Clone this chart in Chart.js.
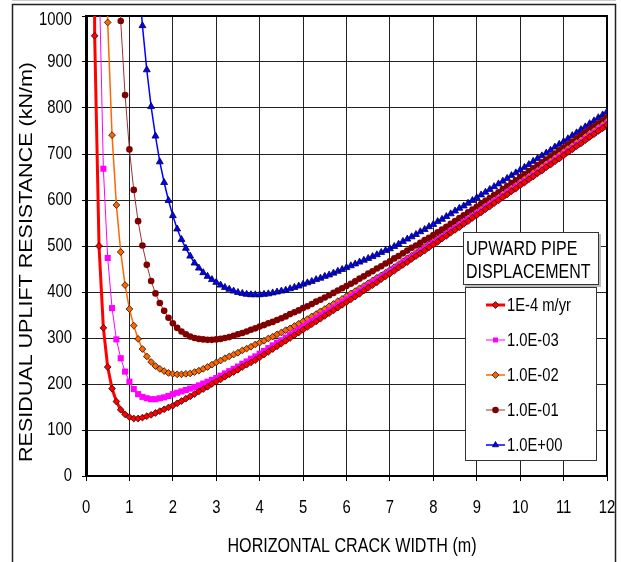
<!DOCTYPE html>
<html>
<head>
<meta charset="utf-8">
<title>Residual uplift resistance</title>
<script src="https://cdn.jsdelivr.net/npm/chart.js@4.4.1/dist/chart.umd.min.js"></script>
<style>
	html, body { margin: 0; padding: 0; background: #fff; }
	#wrap { width: 621px; height: 562px; position: relative; }
</style>
</head>
<body>
<div id="wrap"><canvas id="chart" width="621" height="562"></canvas></div>
<script>
// horizontal crack width (m)
const crackWidth = [
	0.1, 0.2, 0.3, 0.4, 0.5, 0.6, 0.7, 0.8, 0.9, 1.0,
	1.1, 1.2, 1.3, 1.4, 1.5, 1.6, 1.7, 1.8, 1.9, 2.0,
	2.1, 2.2, 2.3, 2.4, 2.5, 2.6, 2.7, 2.8, 2.9, 3.0,
	3.1, 3.2, 3.3, 3.4, 3.5, 3.6, 3.7, 3.8, 3.9, 4.0,
	4.1, 4.2, 4.3, 4.4, 4.5, 4.6, 4.7, 4.8, 4.9, 5.0,
	5.1, 5.2, 5.3, 5.4, 5.5, 5.6, 5.7, 5.8, 5.9, 6.0,
	6.1, 6.2, 6.3, 6.4, 6.5, 6.6, 6.7, 6.8, 6.9, 7.0,
	7.1, 7.2, 7.3, 7.4, 7.5, 7.6, 7.7, 7.8, 7.9, 8.0,
	8.1, 8.2, 8.3, 8.4, 8.5, 8.6, 8.7, 8.8, 8.9, 9.0,
	9.1, 9.2, 9.3, 9.4, 9.5, 9.6, 9.7, 9.8, 9.9, 10.0,
	10.1, 10.2, 10.3, 10.4, 10.5, 10.6, 10.7, 10.8, 10.9, 11.0,
	11.1, 11.2, 11.3, 11.4, 11.5, 11.6, 11.7, 11.8, 11.9, 12.0
];

// residual uplift resistance (kN/m), one list per displacement rate
const rate1e4 = [
	3000, 957, 500, 322, 237, 190, 162, 144, 134, 128,
	125, 125, 127, 130, 133, 137, 141, 145, 149, 153,
	158, 163, 168, 173, 178, 184, 189, 194, 200, 205,
	210, 216, 221, 226, 231, 237, 242, 247, 252, 258,
	264, 270, 276, 282, 288, 294, 300, 306, 312, 318,
	324, 330, 336, 342, 348, 354, 360, 366, 372, 378,
	384, 390, 396, 403, 409, 415, 421, 428, 434, 440,
	446, 453, 459, 465, 472, 478, 484, 490, 497, 503,
	509, 516, 522, 529, 535, 541, 548, 554, 561, 567,
	573, 580, 586, 593, 599, 606, 612, 619, 625, 632,
	638, 645, 651, 658, 664, 671, 677, 684, 690, 697,
	704, 710, 717, 723, 730, 737, 743, 750, 756, 763
];
const rate1e3 = [
	9000, 2600, 1100, 668, 474, 365, 297, 256, 227, 205,
	189, 178, 172, 169, 167, 167, 169, 171, 174, 178,
	181, 184, 187, 190, 193, 197, 201, 205, 209, 213,
	218, 223, 228, 233, 238, 244, 249, 255, 260, 266,
	272, 278, 284, 290, 295, 301, 307, 313, 319, 325,
	331, 337, 343, 349, 354, 360, 366, 372, 378, 384,
	390, 396, 402, 408, 414, 421, 427, 433, 439, 445,
	451, 457, 464, 470, 476, 482, 488, 495, 501, 507,
	513, 520, 526, 533, 539, 545, 552, 558, 565, 571,
	577, 584, 590, 597, 603, 609, 616, 622, 629, 635,
	641, 648, 654, 661, 667, 674, 680, 687, 693, 700,
	707, 713, 720, 726, 733, 740, 746, 753, 759, 766
];
const rate1e2 = [
	15000, 5000, 2500, 1450, 986, 741, 589, 487, 415, 363,
	327, 298, 276, 260, 248, 239, 233, 228, 224, 222,
	221, 221, 222, 223, 226, 229, 233, 237, 242, 247,
	251, 256, 260, 264, 268, 273, 277, 281, 286, 290,
	294, 299, 303, 308, 312, 317, 321, 326, 331, 336,
	341, 347, 352, 358, 363, 369, 374, 380, 385, 391,
	397, 402, 408, 413, 419, 425, 431, 436, 442, 448,
	454, 460, 467, 473, 479, 485, 491, 498, 504, 510,
	516, 523, 529, 536, 542, 549, 555, 562, 568, 575,
	581, 588, 594, 601, 607, 614, 620, 627, 633, 640,
	647, 653, 660, 666, 673, 680, 686, 693, 699, 706,
	713, 719, 726, 732, 739, 746, 752, 759, 765, 772
];
const rate1e1 = [
	30000, 9000, 4500, 2900, 2100, 1600, 1250, 989, 828, 710,
	622, 554, 501, 459, 424, 397, 376, 359, 344, 332,
	322, 314, 308, 303, 300, 298, 297, 296, 296, 297,
	298, 300, 302, 305, 308, 311, 314, 318, 321, 325,
	328, 332, 335, 339, 343, 347, 352, 356, 360, 365,
	369, 374, 379, 383, 388, 393, 398, 403, 408, 413,
	418, 423, 429, 434, 440, 445, 451, 456, 462, 467,
	473, 478, 484, 490, 496, 501, 507, 513, 518, 524,
	530, 536, 542, 548, 554, 561, 567, 573, 579, 585,
	591, 598, 604, 611, 617, 624, 630, 637, 643, 650,
	656, 663, 669, 676, 682, 688, 695, 701, 708, 714,
	721, 727, 734, 741, 747, 754, 760, 767, 773, 780
];
const rate1e0 = [
	30000, 12000, 7200, 5000, 3700, 2900, 2350, 1950, 1650, 1422,
	1242, 1097, 979, 883, 803, 739, 683, 638, 599, 566,
	537, 514, 495, 478, 463, 452, 442, 434, 427, 421,
	415, 410, 406, 402, 399, 397, 395, 394, 394, 394,
	395, 396, 398, 400, 402, 404, 407, 410, 413, 417,
	420, 423, 427, 430, 434, 437, 441, 445, 449, 453,
	457, 461, 465, 469, 473, 477, 481, 486, 490, 494,
	499, 504, 510, 515, 520, 525, 531, 536, 542, 547,
	553, 558, 564, 570, 576, 582, 587, 593, 599, 605,
	611, 617, 623, 629, 635, 641, 647, 653, 659, 665,
	671, 677, 684, 690, 696, 702, 708, 715, 721, 727,
	733, 740, 746, 753, 759, 766, 772, 779, 785, 792
];

const seriesNames = ['1E-4 m/yr', '1.0E-03', '1.0E-02', '1.0E-01', '1.0E+00'];
const legendTitle = ['UPWARD PIPE', 'DISPLACEMENT'];
const xTitle = 'HORIZONTAL CRACK WIDTH (m)';
const yTitle = 'RESIDUAL UPLIFT RESISTANCE (kN/m)';

const FONT = "'Liberation Sans', Arial, sans-serif";

// text squeezed sideways, like the narrow glyphs of the picture
function drawText(ctx, text, x, y, size, sx, align, angle) {
	ctx.save();
	ctx.translate(x, y);
	if (angle) ctx.rotate(angle);
	ctx.scale(sx, 1);
	ctx.font = size + 'px ' + FONT;
	ctx.fillStyle = '#000';
	ctx.textAlign = align || 'left';
	ctx.textBaseline = 'middle';
	ctx.fillText(text, 0, 0);
	ctx.restore();
}

function fitText(ctx, text, x, y, size, width, angle) {
	ctx.save();
	ctx.font = size + 'px ' + FONT;
	const w = ctx.measureText(text).width;
	ctx.restore();
	drawText(ctx, text, x, y, size, width / w, 'center', angle);
}

const decor = {
	id: 'decor',
	beforeDatasetsDraw(chart) {
		const {ctx, chartArea: a, scales} = chart;
		ctx.save();
		ctx.strokeStyle = '#000';
		ctx.lineWidth = 2;
		ctx.beginPath();
		ctx.moveTo(a.left, a.top);
		ctx.lineTo(a.right, a.top);
		ctx.lineTo(a.right, a.bottom);
		ctx.stroke();

		// figure frame
		ctx.strokeStyle = '#222';
		ctx.lineWidth = 1.5;
		ctx.beginPath();
		ctx.moveTo(12.5, 600);
		ctx.lineTo(12.5, 4.5);
		ctx.lineTo(615.5, 4.5);
		ctx.lineTo(615.5, 600);
		ctx.stroke();
		ctx.strokeStyle = '#ccc';
		ctx.lineWidth = 1;
		ctx.beginPath();
		ctx.moveTo(12, 0.5);
		ctx.lineTo(616, 0.5);
		ctx.stroke();
		ctx.restore();

		// tick labels at the scales' own tick positions
		scales.y.ticks.forEach(t => {
			const y = scales.y.getPixelForValue(t.value) + (t.value === 1000 ? 4 : 0);
			drawText(ctx, String(t.value), 72, y, 19, 0.78, 'right');
		});
		scales.x.ticks.forEach(t => {
			drawText(ctx, String(t.value), scales.x.getPixelForValue(t.value), 508, 19, 0.78, 'center');
		});

		fitText(ctx, yTitle, 27, 262, 18, 400, -Math.PI / 2);
		fitText(ctx, xTitle, 352, 546, 20, 249, 0);
	},
	afterDraw(chart) {
		const ctx = chart.ctx;
		ctx.save();

		// legend title box
		ctx.fillStyle = '#bbb';
		ctx.fillRect(465, 234, 136, 53);
		ctx.fillStyle = '#fff';
		ctx.fillRect(463, 232, 136, 53);
		ctx.strokeStyle = '#333';
		ctx.lineWidth = 1;
		ctx.strokeRect(463.5, 232.5, 135, 52);
		drawText(ctx, legendTitle[0], 466, 249, 20, 0.8);
		drawText(ctx, legendTitle[1], 466, 272, 20, 0.8);

		// legend box
		ctx.fillStyle = '#fff';
		ctx.fillRect(465, 287, 132, 174);
		ctx.strokeStyle = '#333';
		ctx.strokeRect(465.5, 287.5, 131, 173);

		chart.data.datasets.forEach((ds, i) => {
			const y = 305 + i * 35;
			ctx.strokeStyle = ds.borderColor;
			ctx.lineWidth = ds.borderWidth;
			ctx.beginPath();
			ctx.moveTo(486, y);
			ctx.lineTo(505, y);
			ctx.stroke();
			ctx.fillStyle = ds.pointBackgroundColor;
			ctx.strokeStyle = ds.pointBorderColor;
			ctx.lineWidth = ds.pointBorderWidth;
			Chart.helpers.drawPoint(ctx, {
				pointStyle: ds.pointStyle,
				radius: Math.min(ds.pointRadius, 3.5),
				rotation: 0,
				borderWidth: ds.pointBorderWidth
			}, 495.5, y);
			drawText(ctx, ds.label, 507, y + 1, 18, 0.82);
		});
		ctx.restore();
	}
};

function series(label, values, color, width, style, radius, fill, edge, edgeWidth) {
	return {
		label: label,
		data: values,
		borderColor: color,
		borderWidth: width,
		pointStyle: style,
		pointRadius: radius,
		pointHoverRadius: radius,
		pointBackgroundColor: fill,
		pointBorderColor: edge,
		pointBorderWidth: edgeWidth,
		tension: 0,
		fill: false
	};
}

new Chart(document.getElementById('chart'), {
	type: 'line',
	data: {
		labels: crackWidth,
		datasets: [
			series(seriesNames[0], rate1e4, '#FF0000', 3, 'rectRot', 3.4, '#FF0000', '#300000', 0.8),
			series(seriesNames[1], rate1e3, '#FF00FF', 1, 'rect', 4.3, '#FF00FF', '#FF00FF', 0),
			series(seriesNames[2], rate1e2, '#FF6600', 1.5, 'rectRot', 3.4, '#FF6600', '#201000', 0.8),
			series(seriesNames[3], rate1e1, '#993333', 1, 'circle', 3.3, '#800000', '#800000', 0),
			series(seriesNames[4], rate1e0, '#0000FF', 1.5, 'triangle', 4, '#0000FF', '#000040', 0.8)
		]
	},
	options: {
		responsive: false,
		animation: false,
		devicePixelRatio: 1,
		layout: {padding: {left: 0, top: 16, right: 14, bottom: 0}},
		plugins: {
			legend: {display: false},
			tooltip: {enabled: false}
		},
		scales: {
			x: {
				type: 'linear',
				min: 0,
				max: 12,
				afterFit(scale) { scale.height = 86; },
				ticks: {stepSize: 1, display: false},
				grid: {color: '#222', lineWidth: 1, tickLength: 5, tickColor: '#000'},
				border: {color: '#000', width: 2}
			},
			y: {
				min: 0,
				max: 1000,
				afterFit(scale) { scale.width = 86; },
				ticks: {stepSize: 100, display: false},
				grid: {color: '#222', lineWidth: 1, tickLength: 4, tickColor: '#000'},
				border: {color: '#000', width: 3}
			}
		}
	},
	plugins: [decor]
});
</script>
</body>
</html>
